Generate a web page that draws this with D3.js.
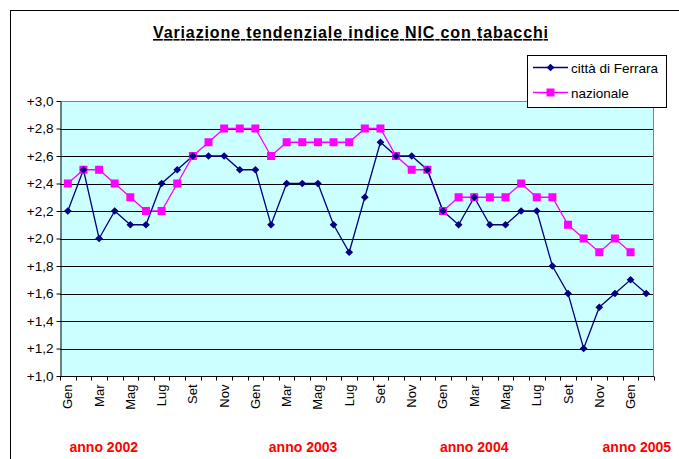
<!DOCTYPE html>
<html>
<head>
<meta charset="utf-8">
<script src="https://cdn.jsdelivr.net/npm/d3@7"></script>
<style>
  body { margin: 0; background: #fff; }
  svg { font-family: Arial, "Liberation Sans", sans-serif; }
</style>
</head>
<body>
<div id="chart-area"></div>
<script>
// months and years shown on the chart
let monthNames = ["Gen","Feb","Mar","Apr","Mag","Giu","Lug","Ago","Set","Ott","Nov","Dic"];
let years = [2002, 2003, 2004, 2005];

// one category per month, Gen 2002 .. Feb 2005
let categories = [];
years.forEach(yr => {
    monthNames.forEach((m, i) => {
        if (yr < 2005 || i < 2) categories.push(m + " " + yr);
    });
});

let ferrara = [2.2, 2.5, 2.0, 2.2, 2.1, 2.1, 2.4, 2.5, 2.6, 2.6, 2.6, 2.5,
               2.5, 2.1, 2.4, 2.4, 2.4, 2.1, 1.9, 2.3, 2.7, 2.6, 2.6, 2.5,
               2.2, 2.1, 2.3, 2.1, 2.1, 2.2, 2.2, 1.8, 1.6, 1.2, 1.5, 1.6,
               1.7, 1.6];

let nazionale = [2.4, 2.5, 2.5, 2.4, 2.3, 2.2, 2.2, 2.4, 2.6, 2.7, 2.8, 2.8,
                 2.8, 2.6, 2.7, 2.7, 2.7, 2.7, 2.7, 2.8, 2.8, 2.6, 2.5, 2.5,
                 2.2, 2.3, 2.3, 2.3, 2.3, 2.4, 2.3, 2.3, 2.1, 2.0, 1.9, 2.0,
                 1.9];

let yTicks = [1.0, 1.2, 1.4, 1.6, 1.8, 2.0, 2.2, 2.4, 2.6, 2.8, 3.0];

// year captions, centred at a (fractional) category index
let yearLabels = ["anno 2002", "anno 2003", "anno 2004", "anno 2005"];
let yearLabelPos = [2.3, 15.05, 26, 36.4];

let W = 679, H = 459;
let margin = {top: 101, right: 25, bottom: 83, left: 60},
    width = W - margin.left - margin.right,
    height = H - margin.top - margin.bottom;

let svg = d3.select("#chart-area")
    .append("svg")
        .attr("width", W)
        .attr("height", H);

// outer chart frame
svg.append("rect")
    .attr("x", 10.5).attr("y", 10.5)
    .attr("width", W + 20).attr("height", H + 20)
    .attr("fill", "none")
    .attr("stroke", "#000");

let g = svg.append("g")
    .attr("transform", "translate(" + margin.left + ", " + margin.top + ")");

let x = d3.scaleBand()
    .domain(categories)
    .range([0, width]);

let y = d3.scaleLinear()
    .domain([1.0, 3.0])
    .range([height, 0]);

let cx = d => x(d) + x.bandwidth() / 2;

// plot background
g.append("rect")
    .attr("width", width)
    .attr("height", height)
    .attr("fill", "#ccffff");

// gridlines
g.selectAll(".grid")
    .data(yTicks.slice(1))
    .enter().append("line")
        .attr("class", "grid")
        .attr("x1", 0).attr("x2", width)
        .attr("y1", d => Math.round(y(d)) + 0.5)
        .attr("y2", d => Math.round(y(d)) + 0.5)
        .attr("stroke", "#000");

// top / right border of plot area
g.append("path")
    .attr("d", "M0.5,0.5H" + (width - 0.5) + "V" + height)
    .attr("fill", "none")
    .attr("stroke", "#808080");

// y axis
let yAxisCall = d3.axisLeft(y)
    .tickValues(yTicks)
    .tickSize(4)
    .tickSizeOuter(0)
    .tickPadding(3)
    .tickFormat(d => "+" + d.toFixed(1).replace(".", ","));

let yAxisGroup = g.append("g")
    .attr("transform", "translate(0.5, 0)")
    .call(yAxisCall);
yAxisGroup.selectAll("text")
    .attr("font-size", "13.5px")
    .attr("font-family", "Arial, 'Liberation Sans', sans-serif")
    .attr("fill", "#000");
yAxisGroup.selectAll("line, path").attr("stroke", "#000");

// x axis line and ticks at category boundaries
let xAxisGroup = g.append("g")
    .attr("transform", "translate(0, " + (height + 0.5) + ")");
xAxisGroup.append("line")
    .attr("x1", 0).attr("x2", width)
    .attr("stroke", "#000");
let boundaries = categories.map(c => x(c)).concat([width]);
xAxisGroup.selectAll(".xtick")
    .data(boundaries)
    .enter().append("line")
        .attr("class", "xtick")
        .attr("x1", d => Math.round(d) + 0.5)
        .attr("x2", d => Math.round(d) + 0.5)
        .attr("y1", 0).attr("y2", 4)
        .attr("stroke", "#000");

// month labels, every other category
xAxisGroup.selectAll(".xlabel")
    .data(categories.filter((c, i) => i % 2 === 0))
    .enter().append("text")
        .attr("class", "xlabel")
        .attr("transform", d => "translate(" + (cx(d) + 4.5) + ", 8) rotate(-90)")
        .attr("text-anchor", "end")
        .attr("font-size", "13px")
        .text(d => d.split(" ")[0]);

// year captions
let step = x.step();
g.selectAll(".year")
    .data(yearLabels)
    .enter().append("text")
        .attr("class", "year")
        .attr("x", (d, i) => x.bandwidth() / 2 + yearLabelPos[i] * step)
        .attr("y", height + 76)
        .attr("text-anchor", "middle")
        .attr("font-size", "14px")
        .attr("font-weight", "bold")
        .attr("fill", "#ff0000")
        .text(d => d);

// lines
let line = d3.line()
    .x((d, i) => cx(categories[i]))
    .y(d => y(d));

g.append("path")
    .datum(nazionale)
    .attr("d", line)
    .attr("fill", "none")
    .attr("stroke", "#ff00ff")
    .attr("stroke-width", 1.3);

g.append("path")
    .datum(ferrara)
    .attr("d", line)
    .attr("fill", "none")
    .attr("stroke", "#000080")
    .attr("stroke-width", 1.3);

// markers
let diamond = d3.symbol().type(d3.symbolSquare).size(30);

g.selectAll(".naz")
    .data(nazionale)
    .enter().append("rect")
        .attr("class", "naz")
        .attr("x", (d, i) => cx(categories[i]) - 4)
        .attr("y", d => y(d) - 4)
        .attr("width", 8).attr("height", 8)
        .attr("fill", "#ff00ff");

g.selectAll(".fer")
    .data(ferrara)
    .enter().append("path")
        .attr("class", "fer")
        .attr("d", diamond)
        .attr("transform", (d, i) => "translate(" + cx(categories[i]) + ", " + y(d) + ") rotate(45)")
        .attr("fill", "#000080");

// title
svg.append("text")
    .attr("x", 153)
    .attr("y", 38)
    .attr("font-size", "16px")
    .attr("font-weight", "bold")
    .attr("text-decoration", "underline")
    .attr("textLength", 395)
    .attr("lengthAdjust", "spacing")
    .text("Variazione tendenziale indice NIC con tabacchi");

// legend
let legend = svg.append("g")
    .attr("transform", "translate(527, 55)");
legend.append("rect")
    .attr("x", 0.5).attr("y", 0.5)
    .attr("width", 139).attr("height", 52)
    .attr("fill", "#fff")
    .attr("stroke", "#000");

let legendItems = [
    {name: "città di Ferrara", color: "#000080", type: "diamond"},
    {name: "nazionale", color: "#ff00ff", type: "square"}
];
legendItems.forEach((item, i) => {
    let ly = 12.5 + i * 25;
    legend.append("line")
        .attr("x1", 6).attr("x2", 41)
        .attr("y1", ly).attr("y2", ly)
        .attr("stroke", item.color)
        .attr("stroke-width", 1.3);
    if (item.type === "diamond") {
        legend.append("path")
            .attr("d", diamond)
            .attr("transform", "translate(23.5, " + ly + ") rotate(45)")
            .attr("fill", item.color);
    } else {
        legend.append("rect")
            .attr("x", 19.5).attr("y", ly - 4)
            .attr("width", 8).attr("height", 8)
            .attr("fill", item.color);
    }
    legend.append("text")
        .attr("x", 44)
        .attr("y", ly + 5)
        .attr("font-size", "13.5px")
        .text(item.name);
});
</script>
</body>
</html>
